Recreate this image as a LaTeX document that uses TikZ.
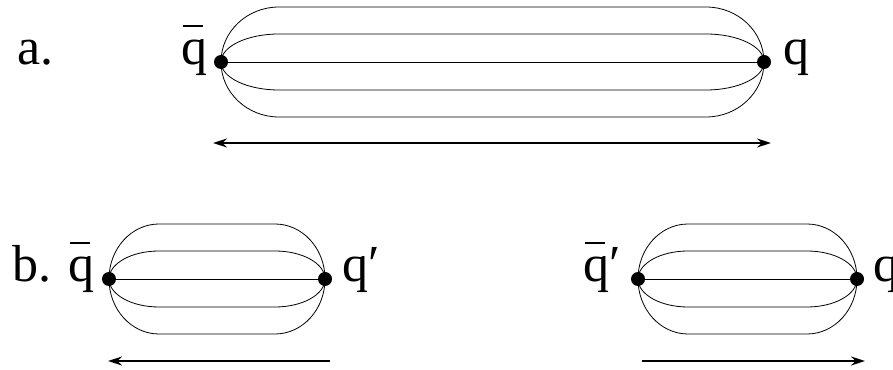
\documentclass[tikz,border=0pt]{standalone}
\usepackage{fontspec}
\setmainfont{Liberation Serif}
\usetikzlibrary{positioning,arrows.meta}

\newcommand{\qbar}{\makebox[0pt][l]{\hspace{0.03em}\rule[0.72em]{0.38em}{0.045em}}q}

\begin{document}
\begin{tikzpicture}[x=1pt, y=1pt, >={Stealth[length=14pt,width=9pt]},
		font=\fontsize{52}{60}\selectfont,
		quark/.style={circle, fill, inner sep=0pt, minimum size=14pt},
		lbl/.style={inner sep=0pt},
		tube/.style={line width=0.8pt},
		motion/.style={line width=1.6pt}]
	\useasboundingbox (0,0) rectangle (893,369);
	% a. stretched string
	\node[quark] (A1) at (221,307) {};
	\node[quark] (A2) at (764,307) {};
	\node[lbl, left=6pt of A1, anchor=mid east] (A1l) {\qbar};
	\node[lbl, right=12pt of A2, anchor=mid west] (A2l) {q};
	\node[lbl, anchor=mid east] (la) at (54,307) {a.};
	% b. broken pieces
	\node[quark] (B1) at (109,90) {};
	\node[quark] (B2) at (325,90) {};
	\node[quark] (C1) at (638,90) {};
	\node[quark] (C2) at (857,90) {};
	\node[lbl, left=7pt of B1, anchor=mid east] (B1l) {\qbar};
	\node[lbl, right=10pt of B2, anchor=mid west] (B2l) {q′};
	\node[lbl, left=10pt of C1, anchor=mid east] (C1l) {\qbar′};
	\node[lbl, right=9pt of C2, anchor=mid west] (C2l) {q};
	\node[lbl, anchor=mid east] (lb) at (52,90) {b.};
	% flux tubes
	\foreach \l/\r/\rx in {A1/A2/58, B1/B2/50, C1/C2/50} {
		\draw[tube] (\l.center) -- (\r.center);
		\foreach \ry in {28,55}
			\draw[tube] (\l.center)
				arc[start angle=180, end angle=90, x radius=\rx, y radius=\ry]
				-- ([xshift=-\rx pt, yshift=\ry pt]\r.center)
				arc[start angle=90, end angle=-90, x radius=\rx, y radius=\ry]
				-- ([xshift=\rx pt, yshift=-\ry pt]\l.center)
				arc[start angle=270, end angle=180, x radius=\rx, y radius=\ry];
	}
	% motion arrows
	\coordinate (a1) at (213,226);
	\coordinate (a2) at (771,226);
	\coordinate (b1) at (108,8);
	\coordinate (b2) at (330,8);
	\coordinate (c1) at (642,8);
	\coordinate (c2) at (865,8);
	\draw[motion, <->] (a1) -- (a2);
	\draw[motion, <-] (b1) -- (b2);
	\draw[motion, ->] (c1) -- (c2);
\end{tikzpicture}
\end{document}
